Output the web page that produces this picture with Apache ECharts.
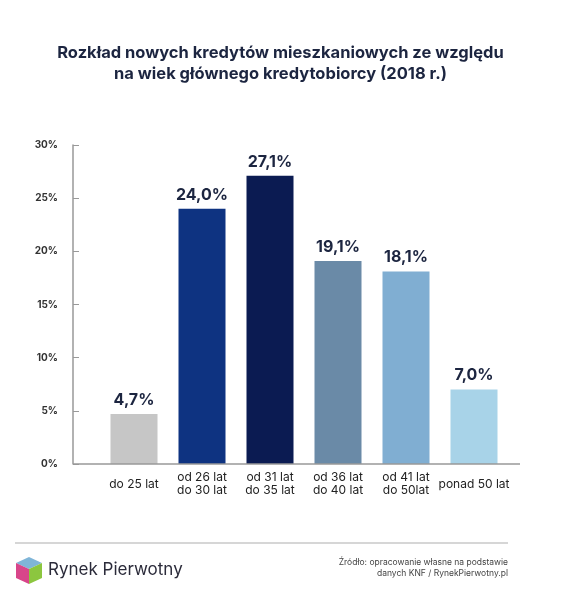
<!DOCTYPE html>
<html>
<head>
<meta charset="utf-8">
<script src="https://cdn.jsdelivr.net/npm/echarts@6/dist/echarts.min.js"></script>
<style>html,body{margin:0;padding:0;background:#fff;}#c{width:561px;height:600px;}</style>
</head>
<body>
<div id="c"></div>
<script>
const categories = ['do 25 lat', 'od 26 lat\ndo 30 lat', 'od 31 lat\ndo 35 lat', 'od 36 lat\ndo 40 lat', 'od 41 lat\ndo 50lat', 'ponad 50 lat'];
const values = [4.7, 24.0, 27.1, 19.1, 18.1, 7.0];
const barColors = ['#c6c6c6', '#0e3381', '#0b1b52', '#6a8aa7', '#80aed2', '#a8d3e8'];
const yTicks = [0, 5, 10, 15, 20, 25, 30];

const FONT = 'Inter, "Noto Sans", sans-serif';
const chart = echarts.init(document.getElementById('c'), null, {renderer: 'canvas'});
chart.setOption({
  backgroundColor: '#ffffff',
  animation: false,
  title: {
    text: 'Rozkład nowych kredytów mieszkaniowych ze względu\nna wiek głównego kredytobiorcy (2018 r.)',
    left: 'center',
    top: 38,
    textStyle: {fontFamily: FONT, fontWeight: 'bold', fontSize: 16.5, color: '#1c2540', lineHeight: 21}
  },
  grid: {left: 100, right: 53, top: 145, bottom: 136},
  xAxis: {
    type: 'category',
    data: categories,
    axisLine: {show: false},
    axisTick: {show: false},
    axisLabel: {fontFamily: FONT, fontSize: 12, color: '#222', lineHeight: 13, margin: 20, verticalAlign: 'middle', interval: 0}
  },
  yAxis: {
    type: 'value',
    min: yTicks[0],
    max: yTicks[yTicks.length - 1],
    interval: 5,
    offset: 27,
    splitLine: {show: false},
    axisLine: {show: true, lineStyle: {color: '#999', width: 1.5}},
    axisTick: {show: true, inside: true, length: 6, lineStyle: {color: '#999'}},
    axisLabel: {fontFamily: FONT, fontSize: 10, fontWeight: 'bold', color: '#333', margin: 15, formatter: v => v + '%'}
  },
  series: [{
    type: 'bar',
    barWidth: 47,
    data: values.map((v, i) => ({value: v, itemStyle: {color: barColors[i]}})),
    label: {
      show: true, position: 'top', distance: 6,
      fontFamily: FONT, fontSize: 16, fontWeight: 'bold', color: '#1c2540',
      formatter: p => p.value.toFixed(1).replace('.', ',') + '%'
    }
  }],
  graphic: [
    {type: 'line', shape: {x1: 73, y1: 464, x2: 520, y2: 464}, style: {stroke: '#999', lineWidth: 1.5}, z: 10},
    {type: 'line', shape: {x1: 15, y1: 543, x2: 508, y2: 543}, style: {stroke: '#c8c8c8', lineWidth: 1.5}},
    {type: 'polygon', shape: {points: [[29, 557], [42, 563], [29, 569], [16, 563]]}, style: {fill: '#7fb5d8'}},
    {type: 'polygon', shape: {points: [[16, 563], [29, 569], [29, 584], [16, 578]]}, style: {fill: '#d8458a'}},
    {type: 'polygon', shape: {points: [[29, 569], [42, 563], [42, 578], [29, 584]]}, style: {fill: '#8cc63f'}},
    {type: 'text', left: 48, top: 561, style: {text: 'Rynek Pierwotny', font: '17px ' + FONT, fill: '#2b2b3a'}},
    {type: 'text', right: 53, top: 557, style: {text: 'Źródło: opracowanie własne na podstawie\ndanych KNF / RynekPierwotny.pl', font: '8.5px ' + FONT, fill: '#444', textAlign: 'right', lineHeight: 11}}
  ]
});
</script>
</body>
</html>
